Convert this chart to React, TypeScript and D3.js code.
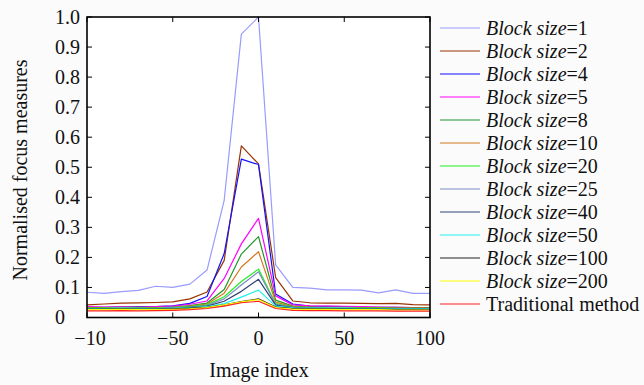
import { useEffect, useRef } from 'react';
import * as d3 from 'd3';

const imageIndex = [-100, -90, -80, -70, -60, -50, -40, -30, -20, -10, 0, 10, 20, 30, 40, 50, 60, 70, 80, 90, 100];

const bs1 = [0.084, 0.080, 0.086, 0.090, 0.104, 0.100, 0.111, 0.158, 0.390, 0.943, 1.0, 0.175, 0.100, 0.098, 0.092, 0.092, 0.091, 0.082, 0.092, 0.080, 0.080];
const bs2 = [0.042, 0.045, 0.048, 0.049, 0.050, 0.052, 0.062, 0.085, 0.190, 0.571, 0.511, 0.133, 0.055, 0.049, 0.048, 0.048, 0.047, 0.046, 0.047, 0.043, 0.042];
const bs4 = [0.035, 0.034, 0.035, 0.036, 0.036, 0.039, 0.047, 0.070, 0.213, 0.527, 0.509, 0.078, 0.045, 0.038, 0.037, 0.036, 0.035, 0.034, 0.034, 0.033, 0.032];
const bs5 = [0.036, 0.035, 0.036, 0.035, 0.036, 0.038, 0.044, 0.055, 0.130, 0.245, 0.330, 0.072, 0.042, 0.039, 0.038, 0.037, 0.036, 0.035, 0.034, 0.033, 0.033];
const bs8 = [0.033, 0.033, 0.034, 0.034, 0.033, 0.035, 0.040, 0.048, 0.093, 0.211, 0.269, 0.058, 0.038, 0.035, 0.034, 0.034, 0.033, 0.033, 0.032, 0.032, 0.032];
const bs10 = [0.032, 0.032, 0.033, 0.033, 0.032, 0.034, 0.038, 0.045, 0.081, 0.168, 0.219, 0.051, 0.036, 0.034, 0.033, 0.033, 0.032, 0.032, 0.031, 0.031, 0.031];
const bs20 = [0.031, 0.031, 0.032, 0.032, 0.031, 0.033, 0.036, 0.042, 0.069, 0.120, 0.161, 0.046, 0.035, 0.033, 0.032, 0.032, 0.031, 0.031, 0.030, 0.030, 0.030];
const bs25 = [0.030, 0.030, 0.031, 0.031, 0.030, 0.032, 0.035, 0.040, 0.062, 0.108, 0.152, 0.044, 0.034, 0.032, 0.031, 0.031, 0.030, 0.030, 0.030, 0.029, 0.029];
const bs40 = [0.029, 0.029, 0.030, 0.030, 0.029, 0.031, 0.034, 0.038, 0.054, 0.087, 0.127, 0.041, 0.033, 0.031, 0.030, 0.030, 0.029, 0.029, 0.029, 0.028, 0.028];
const bs50 = [0.030, 0.030, 0.031, 0.030, 0.030, 0.031, 0.033, 0.036, 0.046, 0.068, 0.091, 0.038, 0.032, 0.031, 0.031, 0.031, 0.030, 0.030, 0.030, 0.030, 0.030];
const bs100 = [0.028, 0.028, 0.029, 0.028, 0.028, 0.029, 0.031, 0.034, 0.042, 0.053, 0.062, 0.035, 0.030, 0.029, 0.029, 0.028, 0.028, 0.028, 0.027, 0.027, 0.027];
const bs200 = [0.026, 0.026, 0.027, 0.026, 0.026, 0.027, 0.029, 0.033, 0.042, 0.052, 0.060, 0.033, 0.028, 0.027, 0.027, 0.026, 0.026, 0.026, 0.025, 0.025, 0.025];
const traditional = [0.022, 0.022, 0.023, 0.022, 0.023, 0.024, 0.026, 0.030, 0.038, 0.049, 0.054, 0.030, 0.024, 0.023, 0.023, 0.022, 0.022, 0.022, 0.021, 0.021, 0.021];

const seriesNames = ['1', '2', '4', '5', '8', '10', '20', '25', '40', '50', '100', '200', 'Traditional method'];
const seriesValues = [bs1, bs2, bs4, bs5, bs8, bs10, bs20, bs25, bs40, bs50, bs100, bs200, traditional];
const seriesColors = ['#9a9aff', '#993300', '#1010ff', '#ff00ff', '#22952a', '#d2781e', '#22ee22', '#7a8cc4', '#334477', '#22eeee', '#222222', '#ffff00', '#ff2020'];

const xTicks = [-100, -50, 0, 50, 100];
const xTickLabels = ['\u221210', '\u221250', '0', '50', '100'];
const yTicks = [0, 0.1, 0.2, 0.3, 0.4, 0.5, 0.6, 0.7, 0.8, 0.9, 1.0];
const yTickLabels = ['0', '0.1', '0.2', '0.3', '0.4', '0.5', '0.6', '0.7', '0.8', '0.9', '1.0'];

export default function App() {
  const ref = useRef<SVGSVGElement>(null);

  useEffect(() => {
    const svg = d3.select(ref.current);
    svg.selectAll('*').remove();

    const left = 87, right = 430, top = 17, bottom = 317.5;

    const x = d3.scaleLinear().domain([-100, 100]).range([left, right]);
    const y = d3.scaleLinear().domain([0, 1]).range([bottom, top]);

    svg.append('rect').attr('width', 644).attr('height', 385).attr('fill', '#fbfbfb');
    svg.append('rect').attr('x', left).attr('y', top).attr('width', right - left).attr('height', bottom - top).attr('fill', '#fff');

    // lines
    const line = d3.line<number>().x((_, i) => x(imageIndex[i])).y(d => y(d));
    seriesValues.forEach((vals, i) => {
      svg.append('path').attr('d', line(vals)).attr('fill', 'none')
        .attr('stroke', seriesColors[i]).attr('stroke-width', 1.2).attr('stroke-linejoin', 'round');
    });

    // frame + inward ticks
    svg.append('rect').attr('x', left).attr('y', top).attr('width', right - left).attr('height', bottom - top)
      .attr('fill', 'none').attr('stroke', '#000').attr('stroke-width', 1.6);

    yTicks.forEach((t, i) => {
      svg.append('line').attr('x1', left).attr('x2', left + 5).attr('y1', y(t)).attr('y2', y(t)).attr('stroke', '#000');
      svg.append('line').attr('x1', right - 5).attr('x2', right).attr('y1', y(t)).attr('y2', y(t)).attr('stroke', '#000');
      svg.append('text').attr('x', 55).attr('y', y(t) + 6.5).attr('fill', '#111').text(yTickLabels[i]);
    });
    xTicks.forEach((t, i) => {
      svg.append('line').attr('x1', x(t)).attr('x2', x(t)).attr('y1', bottom).attr('y2', bottom - 5).attr('stroke', '#000');
      svg.append('line').attr('x1', x(t)).attr('x2', x(t)).attr('y1', top).attr('y2', top + 5).attr('stroke', '#000');
      svg.append('text').attr('x', i === 0 ? x(t) + 3 : x(t)).attr('y', 345).attr('text-anchor', 'middle')
        .attr('fill', '#111').text(xTickLabels[i]);
    });

    svg.append('text').attr('x', 259).attr('y', 377).attr('text-anchor', 'middle')
      .attr('fill', '#111').text('Image index');
    svg.append('text').attr('transform', 'translate(27,170) rotate(-90)').attr('text-anchor', 'middle')
      .attr('fill', '#111').text('Normalised focus measures');

    // legend
    seriesNames.forEach((name, i) => {
      const cy = 28 + i * 23;
      svg.append('line').attr('x1', 440).attr('x2', 480).attr('y1', cy).attr('y2', cy)
        .attr('stroke', seriesColors[i]).attr('stroke-width', 1.2);
      const t = svg.append('text').attr('x', 486).attr('y', cy + 7).attr('fill', '#111');
      if (i === seriesNames.length - 1) {
        t.text(name);
      } else {
        t.append('tspan').attr('font-style', 'italic').text('Block size');
        t.append('tspan').text('=' + name);
      }
    });
  }, []);

  return (
    <div style={{ position: 'fixed', left: 0, top: 0 }}>
      <svg ref={ref} width={644} height={385}
        style={{ display: 'block', fontFamily: "'Liberation Serif', 'DejaVu Serif', serif", fontSize: 20 }} />
    </div>
  );
}
